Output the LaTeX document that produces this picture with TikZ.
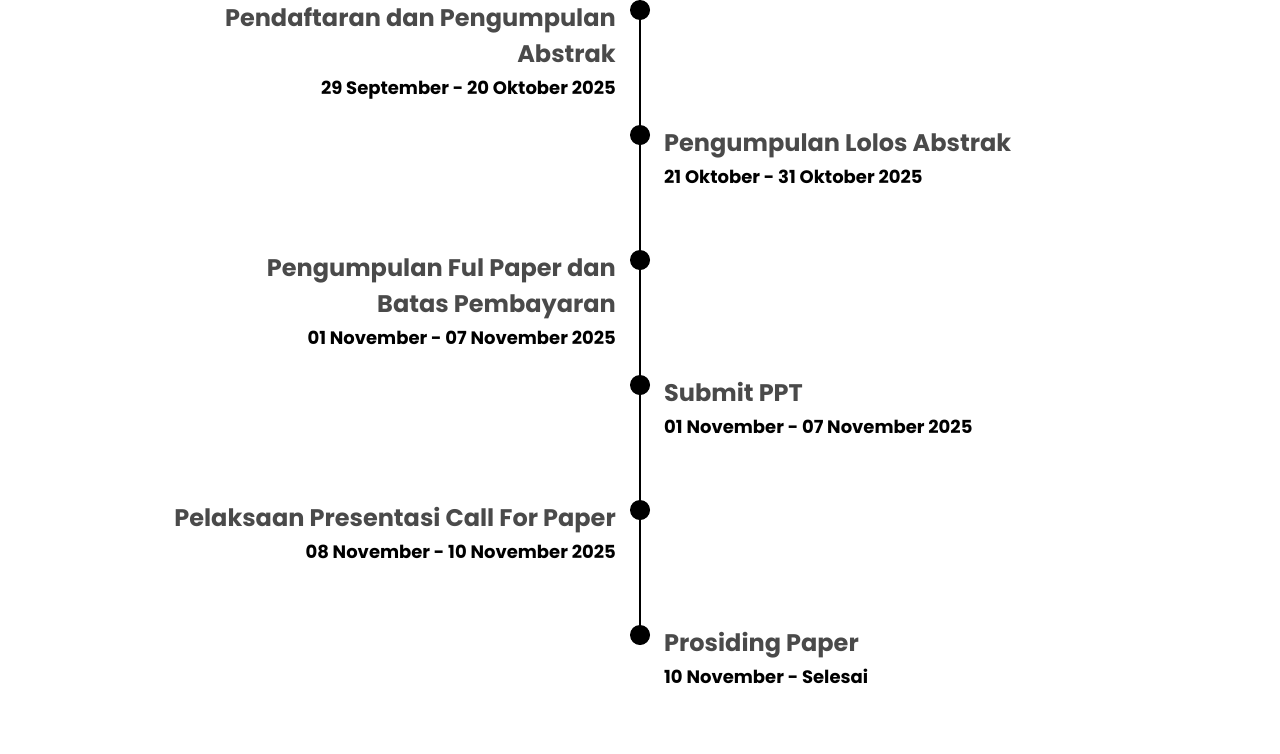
\documentclass[tikz,border=0pt]{standalone}
\usepackage{fontspec}
\setmainfont{Poppins}[BoldFont={Poppins Bold}]
\definecolor{titlegray}{HTML}{4A4A4A}
\tikzset{
  ttl/.style={inner sep=0pt, text=titlegray, font=\bfseries\fontsize{24}{35}\selectfont},
  dte/.style={inner sep=0pt, text=black, font=\bfseries\fontsize{18}{24}\selectfont},
  dot/.style={circle, fill=black, minimum size=20pt, inner sep=0pt}
}
\begin{document}
\begin{tikzpicture}[x=1pt,y=-1pt]
\useasboundingbox (0,0) rectangle (1280,753);
\node[dot] (d1) at (640,10) {};
\node[dot] (d2) at (640,135) {};
\node[dot] (d3) at (640,260) {};
\node[dot] (d4) at (640,385) {};
\node[dot] (d5) at (640,510) {};
\node[dot] (d6) at (640,635) {};
\draw[line width=2pt] (d1.center) -- (d6.center);
% item 1
\node[ttl, anchor=base east] (t1a) at (616,26) {Pendaftaran dan Pengumpulan};
\node[ttl, anchor=base east] (t1b) at (616,62) {Abstrak};
\node[dte, anchor=base east] (s1) at (616,94) {29 September - 20 Oktober 2025};
% item 2
\node[ttl, anchor=base west] (t2) at (664,151) {Pengumpulan Lolos Abstrak};
\node[dte, anchor=base west] (s2) at (664,183) {21 Oktober - 31 Oktober 2025};
% item 3
\node[ttl, anchor=base east] (t3a) at (616,276) {Pengumpulan Ful Paper dan};
\node[ttl, anchor=base east] (t3b) at (616,312) {Batas Pembayaran};
\node[dte, anchor=base east] (s3) at (616,344) {01 November - 07 November 2025};
% item 4
\node[ttl, anchor=base west] (t4) at (664,401) {Submit PPT};
\node[dte, anchor=base west] (s4) at (664,433) {01 November - 07 November 2025};
% item 5
\node[ttl, anchor=base east] (t5) at (616,526) {Pelaksaan Presentasi Call For Paper};
\node[dte, anchor=base east] (s5) at (616,558) {08 November - 10 November 2025};
% item 6
\node[ttl, anchor=base west] (t6) at (664,651) {Prosiding Paper};
\node[dte, anchor=base west] (s6) at (664,683) {10 November - Selesai};
\end{tikzpicture}
\end{document}
